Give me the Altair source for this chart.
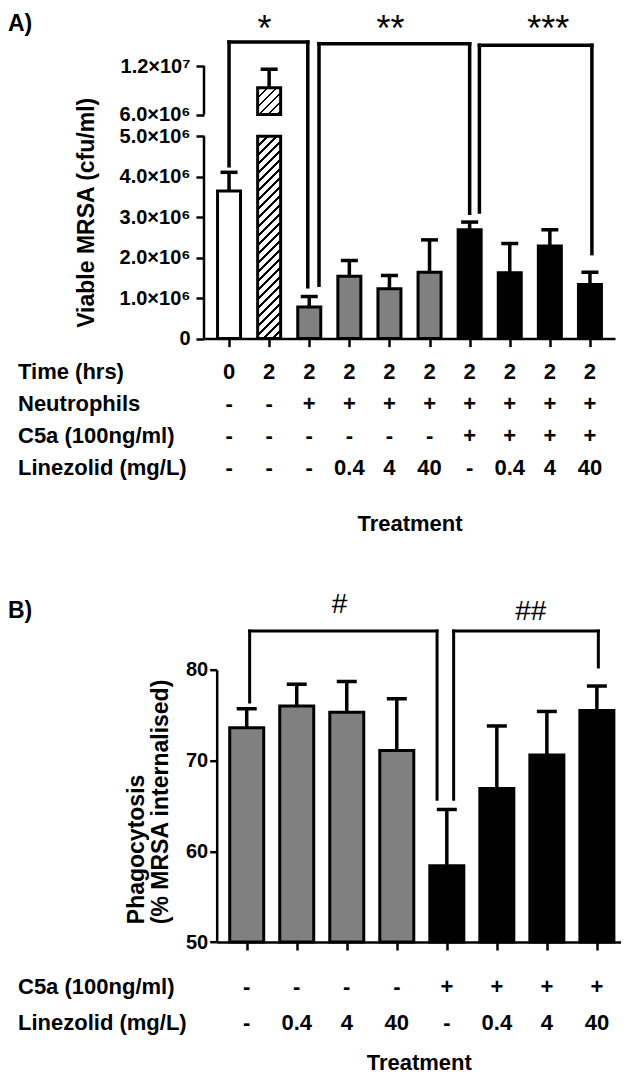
import json
import altair as alt
import pandas as pd

FONT = "Liberation Sans"

# ---------------- Panel A data ----------------
A_GROUP = list(range(10))
A_MEAN = [3.65e6, 9.33e6, 0.78e6, 1.54e6, 1.23e6, 1.64e6, 2.69e6, 1.63e6, 2.29e6, 1.34e6]
A_ERR = [4.11e6, 11.6e6, 1.04e6, 1.93e6, 1.56e6, 2.44e6, 2.88e6, 2.35e6, 2.69e6, 1.64e6]
A_FILL = ["white", "hatch", "grey", "grey", "grey", "grey", "black", "black", "black", "black"]
A_ROWS = ["Time (hrs)", "Neutrophils", "C5a (100ng/ml)", "Linezolid (mg/L)"]
A_TIME = ["0", "2", "2", "2", "2", "2", "2", "2", "2", "2"]
A_NEUT = ["-", "-", "+", "+", "+", "+", "+", "+", "+", "+"]
A_C5A = ["-", "-", "-", "-", "-", "-", "+", "+", "+", "+"]
A_LIN = ["-", "-", "-", "0.4", "4", "40", "-", "0.4", "4", "40"]
A_YTICKS = [0, 1e6, 2e6, 3e6, 4e6, 5e6, 6e6, 1.2e7]
A_YTICK_LABELS = ["0", "1.0×10⁶", "2.0×10⁶", "3.0×10⁶", "4.0×10⁶", "5.0×10⁶", "6.0×10⁶", "1.2×10⁷"]
A_BREAK = [5e6, 6e6]
A_TOP = 1.2e7
A_BR_FROM = [0, 2, 6]
A_BR_TO = [2, 6, 9]
A_BR_TOP = [1.496e7, 1.476e7, 1.456e7]
A_BR_LEFT_END = [4.27e6, 1.32e6, 3.13e6]
A_BR_RIGHT_END = [1.28e6, 3.10e6, 2.10e6]
A_BR_LABEL = ["*", "**", "***"]
A_LABEL_Y = [1.507e7, 1.507e7, 1.507e7]

# ---------------- Panel B data ----------------
B_GROUP = list(range(8))
B_MEAN = [73.6, 76.0, 75.3, 71.1, 58.4, 66.9, 70.6, 75.5]
B_ERR = [75.7, 78.4, 78.7, 76.8, 64.6, 73.8, 75.4, 78.2]
B_FILL = ["grey", "grey", "grey", "grey", "black", "black", "black", "black"]
B_ROWS = ["C5a (100ng/ml)", "Linezolid (mg/L)"]
B_C5A = ["-", "-", "-", "-", "+", "+", "+", "+"]
B_LIN = ["-", "0.4", "4", "40", "-", "0.4", "4", "40"]
B_YTICKS = [50, 60, 70, 80]
B_BR_FROM = [0, 4]
B_BR_TO = [4, 7]
B_BR_TOP = [84.26, 84.26]
B_BR_LEFT_END = [76.44, 65.73]
B_BR_RIGHT_END = [65.73, 80.3]
B_BR_LABEL = ["#", "##"]
B_LABEL_Y = [86.2, 85.5]

# ---------------- styling / layout ----------------
A_W, A_H = 411.0, 272.6
A_LOWER_PX = 202.3      # pixels from 0 to the lower break value
A_UPPER_PX = 48.6       # pixels from the upper break value to the top tick
A_LEG_SHIFT_L = [0, 10, 10]
A_LEG_SHIFT_R = [-1.5, 0, 2]
A_LABEL_DX = [-4, -4, 13]
A_BAR_W = 23
B_INSET = 12.7          # panel B plot starts a little right of panel A's
B_PLOT_W, B_H = 404.2, 272.3
B_XMAX = 7.38
B_LEG_SHIFT_L = [3, 7]
B_LEG_SHIFT_R = [-10, 1.5]
B_LABEL_DX = [-4, 5]
B_BAR_W = 34
FILL_DOMAIN = ["white", "grey", "black"]
FILL_RANGE = ["#ffffff", "#808080", "#000000"]

a_px_x = A_W / 10.0
b_px_x = B_PLOT_W / (B_XMAX + 0.5)

a_yscale = alt.Scale(domain=[0, A_BREAK[0], A_BREAK[1], A_TOP],
                     range=[A_H, A_H - A_LOWER_PX, A_UPPER_PX, 0], nice=False, zero=False)
a_xscale = alt.Scale(domain=[-0.5, 9.5], nice=False, zero=False)
b_yscale = alt.Scale(domain=[50, 80], nice=False, zero=False)
b_xscale = alt.Scale(domain=[-0.5, B_XMAX], range=[B_INSET, B_INSET + B_PLOT_W], nice=False, zero=False)


def a_pix(v):
    """pixel height above the x axis for value v, following the broken scale"""
    if v <= A_BREAK[0]:
        return v / A_BREAK[0] * A_LOWER_PX
    return (A_H - A_UPPER_PX) + (v - A_BREAK[1]) / (A_TOP - A_BREAK[1]) * A_UPPER_PX


def hatch(w, h, pitch=9.0, frac=0.28):
    n = (w + h) / pitch
    c = (w + h) / (w * w + h * h)
    stops = []
    k = 0
    while k / n < 1:
        a, b, e = k / n, min((k + frac) / n, 1), min((k + 1) / n, 1)
        stops += [alt.GradientStop(color="#000000", offset=a),
                  alt.GradientStop(color="#000000", offset=b),
                  alt.GradientStop(color="#ffffff", offset=b),
                  alt.GradientStop(color="#ffffff", offset=e)]
        k += 1
    return alt.Gradient(gradient="linear", x1=0, y1=0, x2=c * w, y2=c * h, stops=stops)


title_kw = dict(titleFont=FONT, titleFontSize=22, titleFontWeight="bold", titleColor="black")
ytitle_kw = dict(titleFont=FONT, titleFontSize=23, titleFontWeight="bold", titleColor="black")
lab_kw = dict(labelFont=FONT, labelFontSize=20, labelFontWeight="bold", labelColor="black")

a_xaxis = alt.Axis(values=A_GROUP, labels=False, tickSize=8, tickWidth=2.5, tickColor="black",
                   domainWidth=2.5, domainColor="black", grid=False, title="Treatment",
                   titlePadding=166, **title_kw)
a_yaxis = alt.Axis(values=A_YTICKS, domain=False, tickSize=8, tickWidth=2.5, tickColor="black",
                   grid=False, labelPadding=6,
                   labelExpr=f"{json.dumps(A_YTICK_LABELS, ensure_ascii=False)}[indexof({json.dumps(A_YTICKS)}, datum.value)]",
                   title="Viable MRSA (cfu/ml)", titlePadding=21, titleY=146.3, **ytitle_kw, **lab_kw)


def ax(field, axis, scale):
    return alt.X(field, type="quantitative", scale=scale, axis=axis)


def ay(field, axis, scale):
    return alt.Y(field, type="quantitative", scale=scale, axis=axis)


# ---------- panel A ----------
dfA = pd.DataFrame({"g": A_GROUP, "mean": A_MEAN, "err": A_ERR, "fill": A_FILL})
plainA = dfA[dfA.fill != "hatch"].assign(y0=0.0)

layersA = []
layersA.append(alt.Chart(plainA).mark_bar(width=A_BAR_W, stroke="black", strokeWidth=3, orient="vertical").encode(
    x=ax("g", a_xaxis, a_xscale), y=ay("y0", a_yaxis, a_yscale), y2="mean",
    fill=alt.Fill("fill:N", scale=alt.Scale(domain=FILL_DOMAIN, range=FILL_RANGE), legend=None)))

for _, r in dfA[dfA.fill == "hatch"].iterrows():
    segs = [(0.0, r["mean"])]
    if r["mean"] > A_BREAK[1]:
        segs = [(0.0, A_BREAK[0]), (A_BREAK[1], r["mean"])]
    for lo, hi in segs:
        seg = pd.DataFrame({"g": [r["g"]], "y0": [lo], "y1": [hi]})
        grad = hatch(A_BAR_W, a_pix(hi) - a_pix(lo))
        layersA.append(alt.Chart(seg).mark_bar(width=A_BAR_W, stroke="black", strokeWidth=3,
                                               fill=grad, orient="vertical").encode(
            x=ax("g", a_xaxis, a_xscale), y=ay("y0", a_yaxis, a_yscale), y2="y1"))

layersA.append(alt.Chart(dfA).mark_rule(color="black", strokeWidth=3.5).encode(
    x=ax("g", a_xaxis, a_xscale), y=ay("mean", a_yaxis, a_yscale), y2="err"))
layersA.append(alt.Chart(dfA).mark_tick(orient="horizontal", size=17, thickness=3.5, color="black", opacity=1).encode(
    x=ax("g", a_xaxis, a_xscale), y=ay("err", a_yaxis, a_yscale)))

axisA = pd.DataFrame({"lo": [0, A_BREAK[1]], "hi": [A_BREAK[0], A_TOP]})
layersA.append(alt.Chart(axisA).mark_rule(color="black", strokeWidth=2.5).encode(
    x=alt.value(0), y=ay("lo", a_yaxis, a_yscale), y2="hi"))

brA = pd.DataFrame({
    "xl": [a + s / a_px_x for a, s in zip(A_BR_FROM, A_LEG_SHIFT_L)],
    "xr": [b + s / a_px_x for b, s in zip(A_BR_TO, A_LEG_SHIFT_R)],
    "top": A_BR_TOP, "le": A_BR_LEFT_END, "re": A_BR_RIGHT_END, "label": A_BR_LABEL,
    "ly": A_LABEL_Y})
brA["lx"] = (brA.xl + brA.xr) / 2 + pd.Series(A_LABEL_DX) / a_px_x
bkw = dict(color="black", strokeWidth=3.5, strokeCap="square")
layersA.append(alt.Chart(brA).mark_rule(**bkw).encode(
    x=ax("xl", a_xaxis, a_xscale), x2="xr", y=ay("top", a_yaxis, a_yscale)))
layersA.append(alt.Chart(brA).mark_rule(**bkw).encode(
    x=ax("xl", a_xaxis, a_xscale), y=ay("top", a_yaxis, a_yscale), y2="le"))
layersA.append(alt.Chart(brA).mark_rule(**bkw).encode(
    x=ax("xr", a_xaxis, a_xscale), y=ay("top", a_yaxis, a_yscale), y2="re"))
layersA.append(alt.Chart(brA).mark_text(font=FONT, fontSize=36, baseline="alphabetic", color="black").encode(
    x=ax("lx", a_xaxis, a_xscale), y=ay("ly", a_yaxis, a_yscale), text="label:N"))

tabA = pd.DataFrame([{"g": g, "row": A_ROWS[i], "v": vals[g]}
                     for i, vals in enumerate([A_TIME, A_NEUT, A_C5A, A_LIN]) for g in A_GROUP])
a_rowscale = alt.Scale(type="point", domain=A_ROWS, range=[306.3, 402.3], padding=0)
tkw = dict(font=FONT, fontSize=22, fontWeight="bold", baseline="middle", color="black")
headA = alt.Chart(pd.DataFrame({"row": A_ROWS})).mark_text(align="left", **tkw).encode(
    x=alt.value(-186), y=alt.Y("row:N", scale=a_rowscale, axis=None), text="row:N")
valsA = alt.Chart(tabA).mark_text(align="center", **tkw).encode(
    x=ax("g", a_xaxis, a_xscale), y=alt.Y("row:N", scale=a_rowscale, axis=None), text="v:N")
panelLabA = alt.Chart(pd.DataFrame({"t": ["A)"]})).mark_text(
    align="left", font=FONT, fontSize=23, fontWeight="bold", baseline="middle", color="black").encode(
    x=alt.value(-196), y=alt.value(-41.7), text="t:N")

chartA = alt.layer(alt.layer(*layersA), headA, valsA, panelLabA).resolve_scale(y="independent").properties(
    width=A_W, height=A_H)

# ---------- panel B ----------
b_xaxis = alt.Axis(values=B_GROUP, labels=False, tickSize=8, tickWidth=2.5, tickColor="black",
                   domainWidth=2.5, domainColor="black", grid=False, title="Treatment",
                   titlePadding=101, titleX=B_INSET + B_PLOT_W / 2, **title_kw)
b_yaxis = alt.Axis(values=B_YTICKS, offset=-B_INSET, domainWidth=2.5, domainColor="black", tickSize=7,
                   tickWidth=2.5, tickColor="black", grid=False, labelPadding=2,
                   title=["Phagocytosis", "(% MRSA internalised)"], titlePadding=13,
                   titleAlign="left", titleY=254, titleLineHeight=24, **ytitle_kw, **lab_kw)

dfB = pd.DataFrame({"g": B_GROUP, "mean": B_MEAN, "err": B_ERR, "fill": B_FILL, "y0": 50.0})
layersB = []
layersB.append(alt.Chart(dfB).mark_bar(width=B_BAR_W, stroke="black", strokeWidth=3, orient="vertical").encode(
    x=ax("g", b_xaxis, b_xscale), y=ay("y0", b_yaxis, b_yscale), y2="mean",
    fill=alt.Fill("fill:N", scale=alt.Scale(domain=FILL_DOMAIN, range=FILL_RANGE), legend=None)))
layersB.append(alt.Chart(dfB).mark_rule(color="black", strokeWidth=3.5).encode(
    x=ax("g", b_xaxis, b_xscale), y=ay("mean", b_yaxis, b_yscale), y2="err"))
layersB.append(alt.Chart(dfB).mark_tick(orient="horizontal", size=20, thickness=3.5, color="black", opacity=1).encode(
    x=ax("g", b_xaxis, b_xscale), y=ay("err", b_yaxis, b_yscale)))

brB = pd.DataFrame({
    "xl": [a + s / b_px_x for a, s in zip(B_BR_FROM, B_LEG_SHIFT_L)],
    "xr": [b + s / b_px_x for b, s in zip(B_BR_TO, B_LEG_SHIFT_R)],
    "top": B_BR_TOP, "le": B_BR_LEFT_END, "re": B_BR_RIGHT_END, "label": B_BR_LABEL,
    "ly": B_LABEL_Y})
brB["lx"] = (brB.xl + brB.xr) / 2 + pd.Series(B_LABEL_DX) / b_px_x
bkwB = dict(color="black", strokeWidth=3, strokeCap="square")
layersB.append(alt.Chart(brB).mark_rule(**bkwB).encode(
    x=ax("xl", b_xaxis, b_xscale), x2="xr", y=ay("top", b_yaxis, b_yscale)))
layersB.append(alt.Chart(brB).mark_rule(**bkwB).encode(
    x=ax("xl", b_xaxis, b_xscale), y=ay("top", b_yaxis, b_yscale), y2="le"))
layersB.append(alt.Chart(brB).mark_rule(**bkwB).encode(
    x=ax("xr", b_xaxis, b_xscale), y=ay("top", b_yaxis, b_yscale), y2="re"))
layersB.append(alt.Chart(brB).mark_text(font=FONT, fontSize=28, baseline="alphabetic", color="black").encode(
    x=ax("lx", b_xaxis, b_xscale), y=ay("ly", b_yaxis, b_yscale), text="label:N"))

tabB = pd.DataFrame([{"g": g, "row": B_ROWS[i], "v": vals[g]}
                     for i, vals in enumerate([B_C5A, B_LIN]) for g in B_GROUP])
b_rowscale = alt.Scale(type="point", domain=B_ROWS, range=[317.3, 353.3], padding=0)
headB = alt.Chart(pd.DataFrame({"row": B_ROWS})).mark_text(align="left", **tkw).encode(
    x=alt.value(-186), y=alt.Y("row:N", scale=b_rowscale, axis=None), text="row:N")
valsB = alt.Chart(tabB).mark_text(align="center", **tkw).encode(
    x=ax("g", b_xaxis, b_xscale), y=alt.Y("row:N", scale=b_rowscale, axis=None), text="v:N")
panelLabB = alt.Chart(pd.DataFrame({"t": ["B)"]})).mark_text(
    align="left", font=FONT, fontSize=23, fontWeight="bold", baseline="middle", color="black").encode(
    x=alt.value(-196), y=alt.value(-58.7), text="t:N")

chartB = alt.layer(alt.layer(*layersB), headB, valsB, panelLabB).resolve_scale(y="independent").properties(
    width=B_INSET + B_PLOT_W, height=B_H)

chart = alt.vconcat(chartA, chartB, spacing=55.7).properties(
    padding={"top": 4, "bottom": 0, "left": 0, "right": 0}).configure(
    font=FONT).configure_view(stroke=None)

chart.save("out.html", embed_options={"renderer": "svg", "actions": False})
